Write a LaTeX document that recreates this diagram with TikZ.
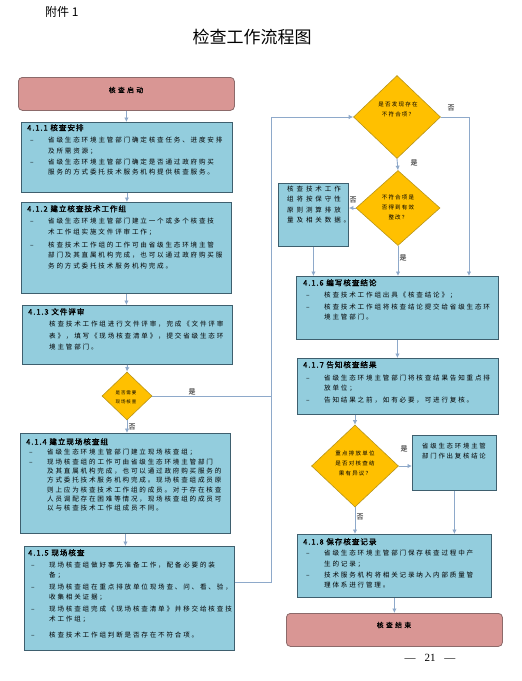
\documentclass[tikz,border=0pt]{standalone}
\usepackage{fontspec}
\setmainfont{Noto Sans CJK SC}
\newfontfamily\cjk[LetterSpace=28]{Noto Sans CJK SC}
\newfontfamily\cjkh[LetterSpace=12,FakeBold=1.5]{Noto Sans CJK SC}
\newfontfamily\cjkt[LetterSpace=35,FakeBold=1.2]{Noto Sans CJK SC}
\newfontfamily\cjkd[LetterSpace=22]{Noto Sans CJK SC}
\newfontfamily\cjkc[LetterSpace=45]{Noto Sans CJK SC}
\newfontfamily\cjkp{Noto Sans CJK SC}
\newfontfamily\numfont{Liberation Serif}
\usetikzlibrary{shapes.geometric,arrows.meta}
\definecolor{boxfill}{HTML}{93CDDD}
\definecolor{boxline}{HTML}{3E5F6E}
\definecolor{pinkfill}{HTML}{D99694}
\definecolor{pinkline}{HTML}{8C6A6A}
\definecolor{gold}{HTML}{FFC000}
\definecolor{goldline}{HTML}{B8941A}
\definecolor{conn}{HTML}{8EA9CA}
\newcommand\hd[1]{{\cjkh\fontsize{7.6}{10.3}\selectfont #1}}
\newcommand\dsh{\hspace*{3pt}\makebox[18pt][l]{–}}
\newcommand\ind{\hspace*{21pt}}
\tikzset{
  box/.style={draw=boxline, fill=boxfill, line width=0.9pt, inner sep=0pt, anchor=north west},
  term/.style={draw=pinkline, fill=pinkfill, rounded corners=4pt, line width=0.8pt, inner sep=0pt, anchor=north west},
  dec/.style={diamond, draw=goldline, fill=gold, line width=0.6pt, inner sep=0pt},
  dtxt/.style={inner sep=0pt, align=center, font=\cjkd\fontsize{5.5}{10}\selectfont},
  txt/.style={anchor=north west, inner sep=0pt, align=left, font=\cjk\fontsize{6.55}{10.3}\selectfont},
  ttxt/.style={inner sep=0pt, font=\cjkt\fontsize{6.8}{9}\selectfont},
  lab/.style={font=\cjkp\fontsize{7}{8}\selectfont, inner sep=0pt},
  arr/.style={draw=conn, line width=0.9pt, -{Latex[length=4.5pt,width=4.5pt]}},
  ln/.style={draw=conn, line width=0.9pt}
}
\begin{document}
\begin{tikzpicture}[x=1pt,y=-1pt]
\fill[white] (0,0) rectangle (522,681);
\useasboundingbox (0,0) rectangle (522,681);

% titles
\node[anchor=west, inner sep=0pt, font=\cjkp\fontsize{12}{14}\selectfont] (att) at (45,12) {附件 1};
\node[inner sep=0pt, font=\cjkp\fontsize{17}{20}\selectfont] (title) at (252,37) {检查工作流程图};
\node[inner sep=0pt, font=\numfont\fontsize{11}{13}\selectfont] (page) at (430,658) {—\hspace{9pt}21\hspace{9pt}—};

% left column
\node[term, minimum width=216pt, minimum height=33pt] (s) at (18,77) {};
\node[ttxt] (st) at (126,90) {核查启动};

\node[box, minimum width=211pt, minimum height=70pt] (b1) at (21,122) {};
\node[txt] (b1t) at (27,124) {\hd{4.1.1 核查安排}\\[2pt]
\dsh 省级生态环境主管部门确定核查任务、进度安排\\
\ind 及所需资源；\\[1pt]
\dsh 省级生态环境主管部门确定是否通过政府购买\\
\ind 服务的方式委托技术服务机构提供核查服务。};

\node[box, minimum width=210pt, minimum height=91pt] (b2) at (21,202) {};
\node[txt] (b2t) at (27,205) {\hd{4.1.2 建立核查技术工作组}\\[2pt]
\dsh 省级生态环境主管部门建立一个或多个核查技\\
\ind 术工作组实施文件评审工作；\\[3pt]
\dsh 核查技术工作组的工作可由省级生态环境主管\\
\ind 部门及其直属机构完成，也可以通过政府购买服\\
\ind 务的方式委托技术服务机构完成。};

\node[box, minimum width=210pt, minimum height=59pt] (b3) at (22,305) {};
\node[txt] (b3t) at (28,308) {\hd{4.1.3 文件评审}\\[2pt]
\ind 核查技术工作组进行文件评审，完成《文件评审\\[1pt]
\ind 表》，填写《现场核查清单》，提交省级生态环\\[1pt]
\ind 境主管部门。};

\node[dec, minimum width=50pt, minimum height=48pt] (d1) at (127,396) {};
\node[dtxt, font=\cjkd\fontsize{4.5}{9}\selectfont] (d1t) at (126,397) {是否需要\\现场核查};

\node[box, minimum width=210pt, minimum height=100pt] (b4) at (20,433) {};
\node[txt, font=\cjk\fontsize{6.55}{9.2}\selectfont] (b4t) at (26,438) {\hd{4.1.4 建立现场核查组}\\[1pt]
\dsh 省级生态环境主管部门建立现场核查组；\\[0.5pt]
\dsh 现场核查组的工作可由省级生态环境主管部门\\
\ind 及其直属机构完成，也可以通过政府购买服务的\\
\ind 方式委托技术服务机构完成。现场核查组成员原\\
\ind 则上应为核查技术工作组的成员。对于存在核查\\
\ind 人员调配存在困难等情况，现场核查组的成员可\\
\ind 以与核查技术工作组成员不同。};

\node[box, minimum width=210pt, minimum height=104pt] (b5) at (24,546) {};
\node[txt] (b5t) at (28,549) {\hd{4.1.5 现场核查}\\[1.5pt]
\dsh 现场核查组做好事先准备工作，配备必要的装\\
\ind 备；\\[1.5pt]
\dsh 现场核查组在重点排放单位现场查、问、看、验，\\
\ind 收集相关证据；\\[1.5pt]
\dsh 现场核查组完成《现场核查清单》并移交给核查技\\
\ind 术工作组；\\[5pt]
\dsh 核查技术工作组判断是否存在不符合项。};

% right column
\node[dec, minimum width=87pt, minimum height=83pt] (d2) at (397,117) {};
\node[dtxt] (d2t) at (398,109) {是否发现存在\\不符合项？};

\node[dec, minimum width=84pt, minimum height=75pt] (d3) at (398,208) {};
\node[dtxt] (d3t) at (398,207) {不符合项是\\否得到有效\\整改？};

\node[box, minimum width=70pt, minimum height=63pt] (c) at (278,183) {};
\node[txt, font=\cjkc\fontsize{6.5}{10.3}\selectfont] (ct) at (287,186) {核查技术工作\\组将按保守性\\原则测算排放\\量及相关数据。};

\node[box, minimum width=202pt, minimum height=63pt] (b6) at (296,276) {};
\node[txt] (b6t) at (303,279) {\hd{4.1.6 编写核查结论}\\[2pt]
\dsh 核查技术工作组出具《核查结论》；\\[1pt]
\dsh 核查技术工作组将核查结论提交给省级生态环\\
\ind 境主管部门。};

\node[box, minimum width=201pt, minimum height=56pt] (b7) at (297,358) {};
\node[txt] (b7t) at (303,361) {\hd{4.1.7 告知核查结果}\\[2.5pt]
\dsh 省级生态环境主管部门将核查结果告知重点排\\
\ind 放单位；\\[1.5pt]
\dsh 告知结果之前，如有必要，可进行复核。};

\node[dec, minimum width=87pt, minimum height=82pt] (d4) at (355,466) {};
\node[dtxt] (d4t) at (355,463) {重点排放单位\\是否对核查结\\果有异议？};

\node[box, minimum width=84pt, minimum height=55pt] (r) at (412,435) {};
\node[inner sep=0pt, align=center, font=\cjk\fontsize{6.4}{10.3}\selectfont] (rt) at (454,451) {省级生态环境主管\\部门作出复核结论};

\node[box, minimum width=194pt, minimum height=63pt] (b8) at (297,534) {};
\node[txt] (b8t) at (303,538) {\hd{4.1.8 保存核查记录}\\[1pt]
\dsh 省级生态环境主管部门保存核查过程中产\\
\ind 生的记录；\\[1pt]
\dsh 技术服务机构将相关记录纳入内部质量管\\
\ind 理体系进行管理。};

\node[term, minimum width=216pt, minimum height=33pt] (e) at (286,613) {};
\node[ttxt] (et) at (394,625) {核查结束};

% junction coordinates
\coordinate (j1) at (271,582);
\coordinate (j2) at (469,117);

% connectors
\draw[arr] (s.south) -- (s.south |- b1.north);
\draw[arr] (b1.south) -- (b1.south |- b2.north);
\draw[arr] (b2.south) -- (b2.south |- b3.north);
\draw[arr] (b3.south) -- (d1.north);
\draw[arr] (d1.south) -- (d1.south |- b4.north);
\draw[ln] (d1.east) -- (d1.east -| j1);
\draw[arr] (b4.south) -- (b4.south |- b5.north);
\draw[arr] (b5.east |- j1) -- (j1) -- (j1 |- d2.west) -- (d2.west);
\draw[arr] (d2.south) -- (d3.north);
\draw[arr] (d2.east) -- (j2) -- (j2 |- b6.north);
\draw[arr] (d3.west) -- (c.east |- d3.west);
\draw[arr] (d3.south) -- (d3.south |- b6.north);
\draw[arr] (c.south) -- (c.south |- b6.north);
\draw[arr] (b6.south) -- (b6.south |- b7.north);
\draw[arr] (d4.north |- b7.south) -- (d4.north);
\draw[arr] (d4.east) -- (r.west |- d4.east);
\draw[arr] (r.south) -- (r.south |- b8.north);
\draw[arr] (d4.south) -- (d4.south |- b8.north);
\draw[arr] (e.north |- b8.south) -- (e.north);

% labels
\node[lab] (l1) at (192,392) {是};
\node[lab] (l2) at (132,427) {否};
\node[lab] (l3) at (451,108) {否};
\node[lab] (l4) at (414,163) {是};
\node[lab] (l5) at (353,200) {否};
\node[lab] (l6) at (403,258) {是};
\node[lab] (l7) at (404,449) {是};
\node[lab] (l8) at (360,517) {否};
\end{tikzpicture}
\end{document}
